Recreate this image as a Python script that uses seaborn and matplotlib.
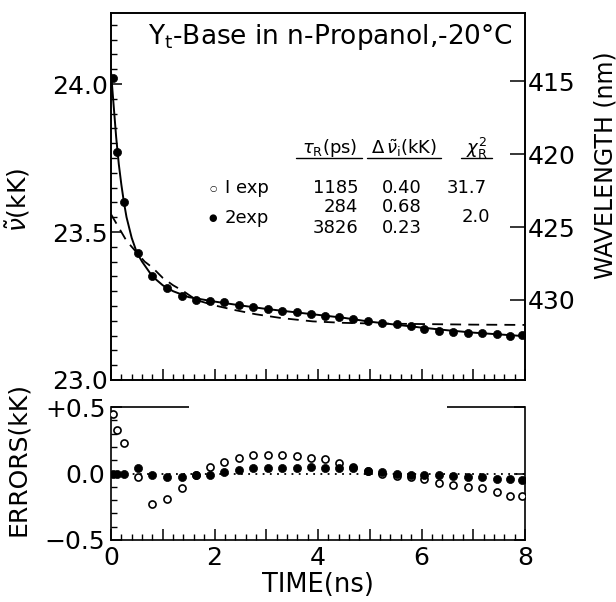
import matplotlib
matplotlib.use("Agg")
import matplotlib.pyplot as plt
import numpy as np
import pandas as pd
import seaborn as sns
from matplotlib.ticker import MultipleLocator, FixedLocator, FuncFormatter
from matplotlib.lines import Line2D

# ---------------- data ----------------
time_ns = [0.04, 0.12, 0.25, 0.52, 0.79, 1.08, 1.37, 1.64, 1.91, 2.18, 2.47, 2.74,
           3.03, 3.30, 3.59, 3.86, 4.14, 4.41, 4.68, 4.97, 5.24, 5.52, 5.80, 6.05,
           6.34, 6.61, 6.90, 7.17, 7.46, 7.71, 7.94]
wavenumber_kK = [24.02, 23.77, 23.60, 23.43, 23.35, 23.31, 23.284, 23.27, 23.267,
                 23.263, 23.253, 23.247, 23.24, 23.233, 23.23, 23.223, 23.216,
                 23.213, 23.206, 23.199, 23.193, 23.189, 23.182, 23.172, 23.166,
                 23.162, 23.159, 23.159, 23.155, 23.149, 23.152]

fit2_t = [0.0, 0.05, 0.1, 0.15, 0.2, 0.25, 0.3, 0.4, 0.5, 0.6, 0.8, 1.0, 1.2, 1.5,
          2.0, 2.5, 3.0, 3.5, 4.0, 4.5, 5.0, 5.5, 6.0, 6.5, 7.0, 7.5, 8.0]
fit2_v = [24.04, 23.93, 23.82, 23.73, 23.66, 23.60, 23.55, 23.48, 23.43, 23.40,
          23.35, 23.32, 23.30, 23.28, 23.265, 23.252, 23.24, 23.23, 23.22, 23.21,
          23.197, 23.187, 23.177, 23.168, 23.160, 23.154, 23.148]

fit1_t = [0.0, 0.1, 0.2, 0.3, 0.4, 0.5, 0.65, 0.8, 1.0, 1.2, 1.4, 1.65, 2.0, 2.4,
          2.8, 3.3, 3.9, 4.5, 5.0, 5.5, 6.0, 7.0, 8.0]
fit1_v = [23.56, 23.53, 23.50, 23.47, 23.45, 23.43, 23.40, 23.38, 23.345, 23.32,
          23.30, 23.27, 23.252, 23.236, 23.222, 23.209, 23.198, 23.193, 23.191,
          23.190, 23.189, 23.187, 23.186]

resid_1exp = [0.45, 0.33, 0.23, -0.03, -0.23, -0.19, -0.11, -0.01, 0.05, 0.09, 0.12,
              0.14, 0.14, 0.14, 0.13, 0.12, 0.11, 0.08, 0.05, 0.02, 0.0, -0.02, -0.03,
              -0.04, -0.07, -0.09, -0.10, -0.11, -0.14, -0.17, -0.17]
resid_2exp = [0.0, 0.0, 0.0, 0.04, -0.01, -0.03, -0.03, -0.015, -0.01, 0.015, 0.03,
              0.04, 0.045, 0.045, 0.045, 0.05, 0.045, 0.045, 0.045, 0.02, 0.01, 0.0,
              -0.01, -0.015, -0.015, -0.02, -0.03, -0.03, -0.04, -0.045, -0.05]

wavelength_ticks = [415, 420, 425, 430]
nu_ticks = [23.0, 23.5, 24.0]
nu_ticklabels = ["23.0", "23.5", "24.0"]
err_ticks = [-0.5, 0.0, 0.5]
err_ticklabels = ["\u22120.5", "0.0", "+0.5"]
err_frame_top = [(0.0, 1.5), (6.5, 8.0)]   # broken upper frame of residual panel

table_header = [r"$\tau_\mathrm{R}$(ps)", r"$\Delta\,\tilde{\nu}_\mathrm{i}$(kK)",
                r"$\chi^2_\mathrm{R}$"]
row1 = ["I exp", "1185", "0.40", "31.7"]
row2 = ["2exp", "284", "0.68", "3826", "0.23", "2.0"]

# ---------------- style ----------------
sns.set_style("ticks")
plt.rcParams['font.family'] = ['DejaVu Sans']
plt.rcParams['mathtext.fontset'] = 'dejavusans'
plt.rcParams['axes.linewidth'] = 1.2
for k in ['text.color', 'axes.labelcolor', 'xtick.color', 'ytick.color', 'axes.edgecolor']:
    plt.rcParams[k] = 'black'

fig = plt.figure(figsize=(6.16, 6.02), dpi=100)
ax = fig.add_axes([0.1802, 0.3688, 0.6721, 0.6096])
axr = fig.add_axes([0.1802, 0.1030, 0.6721, 0.2209])

data = pd.DataFrame({"t": time_ns, "nu": wavenumber_kK})
f2 = pd.DataFrame({"t": fit2_t, "nu": fit2_v})
f1 = pd.DataFrame({"t": fit1_t, "nu": fit1_v})

sns.lineplot(data=f2, x="t", y="nu", ax=ax, color="black", lw=1.4, sort=True)
sns.lineplot(data=f1, x="t", y="nu", ax=ax, color="black", lw=1.3, sort=True,
             linestyle=(0, (6, 4)))
sns.scatterplot(data=data, x="t", y="nu", ax=ax, color="black", s=34,
                edgecolor="black", linewidth=0.5, zorder=5)

ax.set_xlim(0, 8)
ax.set_ylim(23.0, 24.24)
ax.set_xlabel("")
ax.set_ylabel(r"$\tilde{\nu}$(kK)", fontsize=18)
ax.yaxis.set_label_coords(-0.19, 0.49)
ax.yaxis.set_major_locator(FixedLocator(nu_ticks))
ax.set_yticklabels(nu_ticklabels)
ax.yaxis.set_minor_locator(MultipleLocator(0.05))
ax.xaxis.set_major_locator(MultipleLocator(1))
ax.xaxis.set_minor_locator(MultipleLocator(0.2))
ax.tick_params(axis="both", which="major", direction="in", length=8, width=1.1,
               labelsize=18, pad=2)
ax.tick_params(axis="both", which="minor", direction="in", length=4, width=1.0)
ax.tick_params(axis="x", labelbottom=False)
for s in ax.spines.values():
    s.set_visible(True)
    s.set_linewidth(1.2)

ax2 = ax.twinx()
ax2.set_ylim(435.48, 410.34)
ax2.yaxis.set_major_locator(FixedLocator(wavelength_ticks))
ax2.tick_params(axis="y", direction="in", length=11, width=1.1, labelsize=18, pad=2)
ax2.set_ylabel("WAVELENGTH (nm)", fontsize=17, rotation=90)
ax2.yaxis.set_label_coords(1.165, 0.585)
for s in ax2.spines.values():
    s.set_linewidth(1.2)

ax.text(0.53, 0.935, r"Y$_\mathrm{t}$-Base in n-Propanol,-20°C", transform=ax.transAxes,
        ha="center", va="center", fontsize=19)

# table
hdr_x = [0.527, 0.708, 0.883]
hdr_w = [0.16, 0.18, 0.075]
for x, w, t in zip(hdr_x, hdr_w, table_header):
    ax.text(x, 0.632, t, transform=ax.transAxes, ha="center", va="center", fontsize=13)
    ax.add_line(Line2D([x - w / 2, x + w / 2], [0.606, 0.606], transform=ax.transAxes,
                       color="black", lw=1.0))
fs = 13
ax.text(0.246, 0.523, "\u25cb", transform=ax.transAxes, ha="center", va="center", fontsize=6)
ax.text(0.275, 0.523, row1[0], transform=ax.transAxes, ha="left", va="center", fontsize=fs)
ax.text(0.597, 0.523, row1[1], transform=ax.transAxes, ha="right", va="center", fontsize=fs)
ax.text(0.751, 0.523, row1[2], transform=ax.transAxes, ha="right", va="center", fontsize=fs)
ax.text(0.908, 0.523, row1[3], transform=ax.transAxes, ha="right", va="center", fontsize=fs)
ax.text(0.246, 0.441, "\u25cf", transform=ax.transAxes, ha="center", va="center", fontsize=7)
ax.text(0.275, 0.441, row2[0], transform=ax.transAxes, ha="left", va="center", fontsize=fs)
ax.text(0.597, 0.471, row2[1], transform=ax.transAxes, ha="right", va="center", fontsize=fs)
ax.text(0.751, 0.471, row2[2], transform=ax.transAxes, ha="right", va="center", fontsize=fs)
ax.text(0.597, 0.414, row2[3], transform=ax.transAxes, ha="right", va="center", fontsize=fs)
ax.text(0.751, 0.414, row2[4], transform=ax.transAxes, ha="right", va="center", fontsize=fs)
ax.text(0.915, 0.444, row2[5], transform=ax.transAxes, ha="right", va="center", fontsize=fs)

# ---------------- residual panel ----------------
res = pd.DataFrame({"t": time_ns, "r1": resid_1exp, "r2": resid_2exp})
axr.axhline(0, color="black", ls=(0, (1, 3)), lw=1.3, zorder=1)
sns.scatterplot(data=res, x="t", y="r1", ax=axr, facecolor="white", edgecolor="black",
                linewidth=1.2, s=26, zorder=4)
sns.scatterplot(data=res, x="t", y="r2", ax=axr, color="black", edgecolor="black",
                linewidth=0.5, s=34, zorder=5)
axr.set_xlim(0, 8)
axr.set_ylim(-0.5, 0.5)
axr.set_xlabel("TIME(ns)", fontsize=18.5, labelpad=2)
axr.set_ylabel("ERRORS(kK)", fontsize=18)
axr.yaxis.set_label_coords(-0.195, 0.61)
axr.yaxis.set_major_locator(FixedLocator(err_ticks))
axr.set_yticklabels(err_ticklabels)
axr.yaxis.set_minor_locator(MultipleLocator(0.1))
axr.xaxis.set_major_locator(MultipleLocator(1))
axr.xaxis.set_major_formatter(FuncFormatter(lambda v, p: f"{int(round(v))}" if int(round(v)) % 2 == 0 else ""))
axr.xaxis.set_minor_locator(MultipleLocator(0.2))
axr.tick_params(axis="both", which="major", direction="in", length=8, width=1.1,
                labelsize=18, pad=4)
axr.tick_params(axis="y", which="major", right=True)
axr.tick_params(axis="both", which="minor", direction="in", length=4, width=1.0)
axr.spines["top"].set_visible(False)
axr.spines["right"].set_visible(True)
for s in axr.spines.values():
    s.set_linewidth(1.2)
axr.hlines([0.5] * len(err_frame_top), [a for a, b in err_frame_top],
           [b for a, b in err_frame_top], color="black", lw=1.2, clip_on=False)

fig.savefig("out.png", dpi=100)
